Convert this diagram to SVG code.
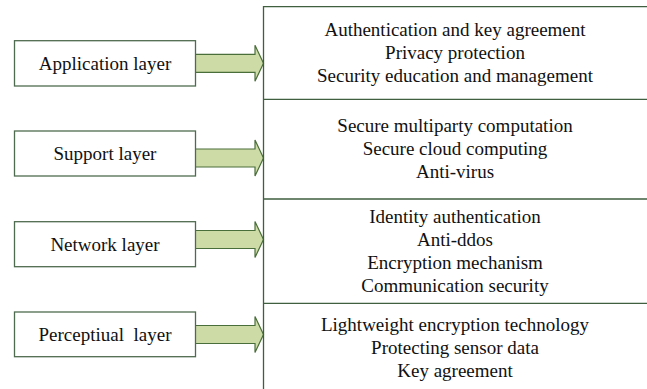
<svg xmlns="http://www.w3.org/2000/svg" width="647" height="389" viewBox="0 0 647 389">
<style>
.box{fill:#fff;stroke:#4f6b4f;stroke-width:1.3}
.arr{fill:#cddba6;stroke:#4a6e3a;stroke-width:1.2;stroke-linejoin:miter}
.line{stroke:#3f5f3f;stroke-width:1.3;fill:none}
text{font-family:"Liberation Serif","Times New Roman",serif;font-size:19px;fill:#111;text-anchor:middle}
</style>
<rect width="647" height="389" fill="#fff"/>
<g id="connectors">
<path class="arr" d="M195,54.3 H255 V45.3 L263.5,63.3 L255,81.3 V72.3 H195 Z"/>
<path class="arr" d="M195,149 H255 V140 L263.5,158 L255,176 V167 H195 Z"/>
<path class="arr" d="M195,230.5 H255 V221.5 L263.5,239.5 L255,257.5 V248.5 H195 Z"/>
<path class="arr" d="M195,325.5 H255 V316.5 L263.5,334.5 L255,352.5 V343.5 H195 Z"/>
</g>
<g id="application-layer">
<rect class="box" x="14.5" y="40.7" width="181" height="45.3"/>
<text x="105" y="70">Application layer</text>
</g>
<g id="support-layer">
<rect class="box" x="14.5" y="131" width="181" height="45"/>
<text x="105" y="160">Support layer</text>
</g>
<g id="network-layer">
<rect class="box" x="14.5" y="221.7" width="181" height="45"/>
<text x="105" y="250.5">Network layer</text>
</g>
<g id="perceptual-layer">
<rect class="box" x="14.5" y="312" width="181" height="44.7"/>
<text x="105" y="341" xml:space="preserve">Perceptiual  layer</text>
</g>
<g id="security-panel">
<path class="line" d="M647,6.7 H263.5 V389"/>
<path class="line" d="M263.5,99.3 H647 M263.5,199 H647 M263.5,303.3 H647"/>
</g>
<g id="application-measures">
<text x="455" y="36">Authentication and key agreement</text>
<text x="455" y="59">Privacy protection</text>
<text x="455" y="82">Security education and management</text>
</g>
<g id="support-measures">
<text x="455" y="132">Secure multiparty computation</text>
<text x="455" y="155">Secure cloud computing</text>
<text x="455" y="178">Anti-virus</text>
</g>
<g id="network-measures">
<text x="455" y="223">Identity authentication</text>
<text x="455" y="246">Anti-ddos</text>
<text x="455" y="269">Encryption mechanism</text>
<text x="455" y="292">Communication security</text>
</g>
<g id="perceptual-measures">
<text x="455" y="331">Lightweight encryption technology</text>
<text x="455" y="354">Protecting sensor data</text>
<text x="455" y="377">Key agreement</text>
</g>
</svg>
